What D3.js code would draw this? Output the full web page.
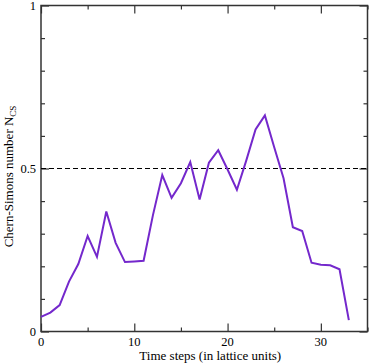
<!DOCTYPE html>
<html>
<head>
<meta charset="utf-8">
<script src="https://cdn.jsdelivr.net/npm/d3@7"></script>
<style>
  body { margin: 0; background: #fff; }
</style>
</head>
<body>
<div id="chart"></div>
<script>
// data
var steps = [0,1,2,3,4,5,6,7,8,9,10,11,12,13,14,15,16,17,18,19,20,21,22,23,24,25,26,27,28,29,30,31,32,33];
var ncs = [0.045,0.058,0.081,0.153,0.207,0.293,0.229,0.368,0.272,0.213,0.215,0.217,0.357,0.48,0.41,0.455,
           0.52,0.405,0.518,0.556,0.497,0.435,0.524,0.62,0.663,0.565,0.47,0.32,0.308,0.211,0.205,0.203,0.191,0.035];
var xTicks = [0, 10, 20, 30];
var xMinor = [5, 15, 25, 35];
var yTicks = [0, 0.5, 1];
var yMinor = [0.1, 0.2, 0.3, 0.4, 0.6, 0.7, 0.8, 0.9];
var yTickLabels = ["0", "0.5", "1"];

var serif = "'Liberation Serif', 'DejaVu Serif', 'Times New Roman', serif";

// set the dimensions and margins of the graph
var margin = {top: 5.5, right: 2.5, bottom: 32.5, left: 41},
    width = 370 - margin.left - margin.right,
    height = 364 - margin.top - margin.bottom;

var svg = d3.select("#chart")
  .append("svg")
    .attr("width", 370)
    .attr("height", 364)
  .append("g")
    .attr("transform", "translate(" + margin.left + "," + margin.top + ")");

var x = d3.scaleLinear().domain([0, 35]).range([0, width]);
var y = d3.scaleLinear().domain([0, 1]).range([height, 0]);

// ticks on all four sides, pointing inwards
var frame = "#333";
function ticks(axis, vals, len) {
  return axis.tickValues(vals).tickSizeInner(-len).tickSizeOuter(0).tickFormat("");
}
svg.append("g").attr("transform", "translate(0," + height + ")").call(ticks(d3.axisBottom(x), xTicks, 8));
svg.append("g").attr("transform", "translate(0," + height + ")").call(ticks(d3.axisBottom(x), xMinor, 4));
svg.append("g").call(ticks(d3.axisTop(x), xTicks, 8));
svg.append("g").call(ticks(d3.axisTop(x), xMinor, 4));
svg.append("g").call(ticks(d3.axisLeft(y), yTicks, 8));
svg.append("g").call(ticks(d3.axisLeft(y), yMinor, 4));
svg.append("g").attr("transform", "translate(" + width + ",0)").call(ticks(d3.axisRight(y), yTicks, 8));
svg.append("g").attr("transform", "translate(" + width + ",0)").call(ticks(d3.axisRight(y), yMinor, 4));
svg.selectAll(".domain").remove();
svg.selectAll(".tick line").attr("stroke", frame).attr("stroke-width", 1.2);

// frame
svg.append("rect")
    .attr("width", width)
    .attr("height", height)
    .attr("fill", "none")
    .attr("stroke", frame)
    .attr("stroke-width", 1.5);

// tick labels
svg.append("g").selectAll("text")
  .data(xTicks)
  .enter().append("text")
    .attr("x", function(d) { return x(d); })
    .attr("y", height + 14)
    .attr("text-anchor", "middle")
    .attr("font-family", serif)
    .attr("font-size", 12.5)
    .text(function(d) { return d; });

svg.append("g").selectAll("text")
  .data(yTicks)
  .enter().append("text")
    .attr("x", -5)
    .attr("y", function(d) { return y(d) + 4.5; })
    .attr("text-anchor", "end")
    .attr("font-family", serif)
    .attr("font-size", 12.5)
    .text(function(d, i) { return yTickLabels[i]; });

// reference line at 0.5
svg.append("line")
    .attr("x1", 0).attr("x2", width)
    .attr("y1", y(0.5)).attr("y2", y(0.5))
    .attr("stroke", "#000")
    .attr("stroke-width", 1)
    .attr("stroke-dasharray", "5,3");

// the curve
svg.append("path")
    .datum(steps)
    .attr("fill", "none")
    .attr("stroke", "#7428cc")
    .attr("stroke-width", 2)
    .attr("d", d3.line()
      .x(function(d) { return x(d); })
      .y(function(d, i) { return y(ncs[i]); }));

// axis labels
svg.append("text")
    .attr("x", width / 2 + 6)
    .attr("y", height + 28)
    .attr("text-anchor", "middle")
    .attr("font-family", serif)
    .attr("font-size", 13)
    .text("Time steps (in lattice units)");

var yl = svg.append("text")
    .attr("transform", "translate(-28," + (height / 2 + 8) + ") rotate(-90)")
    .attr("text-anchor", "middle")
    .attr("font-family", serif)
    .attr("font-size", 13);
yl.append("tspan").text("Chern-Simons number N");
yl.append("tspan").attr("font-size", 9).attr("dy", 3).text("CS");
</script>
</body>
</html>
